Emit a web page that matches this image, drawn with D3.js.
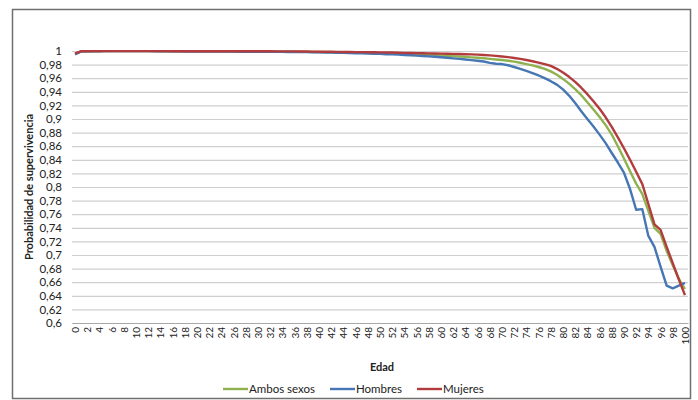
<!DOCTYPE html>
<html>
<head>
<meta charset="utf-8">
<script src="https://cdn.jsdelivr.net/npm/d3@7"></script>
<style>
  html, body { margin: 0; padding: 0; background: #fff; }
  svg { display: block; }
  text { font-family: Lato, "Open Sans", sans-serif; fill: #222; }
</style>
</head>
<body>
<svg id="chart" width="698" height="400"></svg>
<script>
const ages = [0,1,2,3,4,5,6,7,8,9,10,11,12,13,14,15,16,17,18,19,20,21,22,23,24,25,26,27,28,29,30,31,32,33,34,35,36,37,38,39,40,41,42,43,44,45,46,47,48,49,50,51,52,53,54,55,56,57,58,59,60,61,62,63,64,65,66,67,68,69,70,71,72,73,74,75,76,77,78,79,80,81,82,83,84,85,86,87,88,89,90,91,92,93,94,95,96,97,98,99,100];

const ambosSexos = [
  0.9958,0.9995,0.9996,0.9997,0.9997,0.9998,0.9998,0.9998,0.9998,0.9998,
  0.9998,0.9998,0.9998,0.9998,0.9997,0.9997,0.9996,0.9995,0.9995,0.9994,
  0.9994,0.9994,0.9994,0.9994,0.9994,0.9994,0.9994,0.9993,0.9993,0.9993,
  0.9993,0.9992,0.9992,0.9991,0.9991,0.9990,0.9989,0.9988,0.9987,0.9986,
  0.9985,0.9984,0.9982,0.9981,0.9979,0.9978,0.9976,0.9974,0.9972,0.9970,
  0.9968,0.9966,0.9963,0.9960,0.9957,0.9954,0.9950,0.9946,0.9942,0.9938,
  0.9934,0.9929,0.9924,0.9919,0.9913,0.9907,0.9900,0.9893,0.9884,0.9876,
  0.9868,0.9857,0.9843,0.9827,0.9808,0.9788,0.9765,0.9738,0.9700,0.9650,
  0.9590,0.9520,0.9440,0.9350,0.9245,0.9140,0.9030,0.8910,0.8770,0.8600,
  0.8420,0.8230,0.8050,0.7900,0.7650,0.7400,0.7310,0.7060,0.6850,0.6650,
  0.6500
];

const hombres = [
  0.9950,0.9994,0.9996,0.9997,0.9997,0.9998,0.9998,0.9998,0.9998,0.9998,
  0.9998,0.9998,0.9998,0.9997,0.9997,0.9996,0.9995,0.9994,0.9993,0.9992,
  0.9992,0.9991,0.9991,0.9991,0.9991,0.9991,0.9991,0.9990,0.9990,0.9990,
  0.9989,0.9989,0.9988,0.9988,0.9987,0.9986,0.9985,0.9984,0.9983,0.9982,
  0.9980,0.9979,0.9977,0.9975,0.9973,0.9971,0.9968,0.9966,0.9963,0.9960,
  0.9957,0.9953,0.9950,0.9946,0.9942,0.9937,0.9932,0.9927,0.9921,0.9915,
  0.9908,0.9900,0.9892,0.9884,0.9875,0.9866,0.9856,0.9845,0.9825,0.9812,
  0.9808,0.9790,0.9765,0.9738,0.9708,0.9676,0.9640,0.9600,0.9556,0.9505,
  0.9435,0.9345,0.9235,0.9115,0.9000,0.8890,0.8770,0.8645,0.8500,0.8360,
  0.8210,0.7970,0.7665,0.7675,0.7280,0.7120,0.6830,0.6550,0.6510,0.6550,
  0.6590
];

const mujeres = [
  0.9965,0.9996,0.9997,0.9998,0.9998,0.9998,0.9998,0.9998,0.9998,0.9998,
  0.9998,0.9998,0.9998,0.9998,0.9998,0.9998,0.9997,0.9997,0.9997,0.9997,
  0.9997,0.9997,0.9997,0.9997,0.9997,0.9997,0.9996,0.9996,0.9996,0.9996,
  0.9996,0.9996,0.9996,0.9995,0.9995,0.9994,0.9994,0.9993,0.9992,0.9991,
  0.9990,0.9989,0.9988,0.9987,0.9986,0.9985,0.9984,0.9983,0.9982,0.9981,
  0.9980,0.9979,0.9977,0.9975,0.9973,0.9971,0.9969,0.9967,0.9965,0.9963,
  0.9961,0.9959,0.9957,0.9955,0.9953,0.9950,0.9946,0.9941,0.9935,0.9928,
  0.9920,0.9910,0.9898,0.9884,0.9868,0.9850,0.9830,0.9808,0.9780,0.9738,
  0.9685,0.9620,0.9545,0.9460,0.9365,0.9262,0.9150,0.9025,0.8885,0.8730,
  0.8570,0.8400,0.8225,0.8045,0.7750,0.7450,0.7370,0.7120,0.6880,0.6640,
  0.6410
];

const yTicks = [0.6,0.62,0.64,0.66,0.68,0.7,0.72,0.74,0.76,0.78,0.8,0.82,0.84,0.86,0.88,0.9,0.92,0.94,0.96,0.98,1];
const xTicks = [0,2,4,6,8,10,12,14,16,18,20,22,24,26,28,30,32,34,36,38,40,42,44,46,48,50,52,54,56,58,60,62,64,66,68,70,72,74,76,78,80,82,84,86,88,90,92,94,96,98,100];

const seriesNames = ["Ambos sexos", "Hombres", "Mujeres"];
const seriesValues = [ambosSexos, hombres, mujeres];
const seriesColors = ["#8fb150", "#4677b4", "#b23c3d"];

const svg = d3.select("#chart");
const plot = { left: 72, right: 688, top: 51, bottom: 323 };

// outer border
svg.append("rect")
  .attr("x", 12.5).attr("y", 9.5)
  .attr("width", 678).attr("height", 389)
  .attr("fill", "none").attr("stroke", "#6f6f6f").attr("stroke-width", 1.5);

const x = d3.scalePoint().domain(ages).range([plot.left, plot.right]).padding(0.5);
const y = d3.scaleLinear().domain([0.6, 1]).range([plot.bottom, plot.top]);

// gridlines + y labels
const yAxis = d3.axisLeft(y)
  .tickValues(yTicks)
  .tickSize(-(plot.right - plot.left))
  .tickPadding(10)
  .tickFormat(d => String(d).replace(".", ","));
const gy = svg.append("g").attr("transform", `translate(${plot.left},0)`).call(yAxis);
gy.select(".domain").remove();
gy.selectAll(".tick line").attr("stroke", "#cfcfcf").attr("stroke-width", 1.2);
gy.selectAll(".tick text").attr("font-size", 11.5).attr("fill", "#333")
  .style("font-family", "Lato, 'Open Sans', sans-serif");

// x axis
const xAxis = d3.axisBottom(x).tickValues(xTicks).tickSize(0).tickPadding(0);
const gx = svg.append("g").attr("transform", `translate(0,${plot.bottom})`).call(xAxis);
gx.select(".domain").attr("stroke", "#a8a8a8").attr("stroke-width", 1.2);
gx.selectAll(".tick text")
  .attr("transform", "translate(0,4) rotate(-90)")
  .attr("text-anchor", "end")
  .attr("x", 0).attr("y", 0).attr("dy", "0.35em")
  .attr("font-size", 10).attr("fill", "#333")
  .style("font-family", "Lato, 'Open Sans', sans-serif");

// lines
const line = d3.line().x((d, i) => x(ages[i])).y(d => y(d));
seriesValues.forEach((vals, k) => {
  svg.append("path")
    .datum(vals)
    .attr("d", line)
    .attr("fill", "none")
    .attr("stroke", seriesColors[k])
    .attr("stroke-width", 2.4)
    .attr("stroke-linejoin", "round");
});

// axis titles
svg.append("text")
  .attr("transform", `translate(33,${(plot.top + plot.bottom) / 2}) rotate(-90)`)
  .attr("text-anchor", "middle")
  .attr("font-size", 11).attr("font-weight", "bold")
  .text("Probabilidad de supervivencia");

svg.append("text")
  .attr("x", 382).attr("y", 371)
  .attr("text-anchor", "middle")
  .attr("font-size", 11).attr("font-weight", "bold")
  .text("Edad");

// legend
const legendX = [223, 330, 417];
seriesNames.forEach((name, k) => {
  const g = svg.append("g").attr("transform", `translate(${legendX[k]},389)`);
  g.append("line").attr("x1", 0).attr("x2", 25).attr("y1", 0).attr("y2", 0)
    .attr("stroke", seriesColors[k]).attr("stroke-width", 2.4);
  g.append("text").attr("x", 26).attr("y", 0).attr("dy", "0.35em")
    .attr("font-size", 11.5).attr("fill", "#333").text(name);
});
</script>
</body>
</html>
